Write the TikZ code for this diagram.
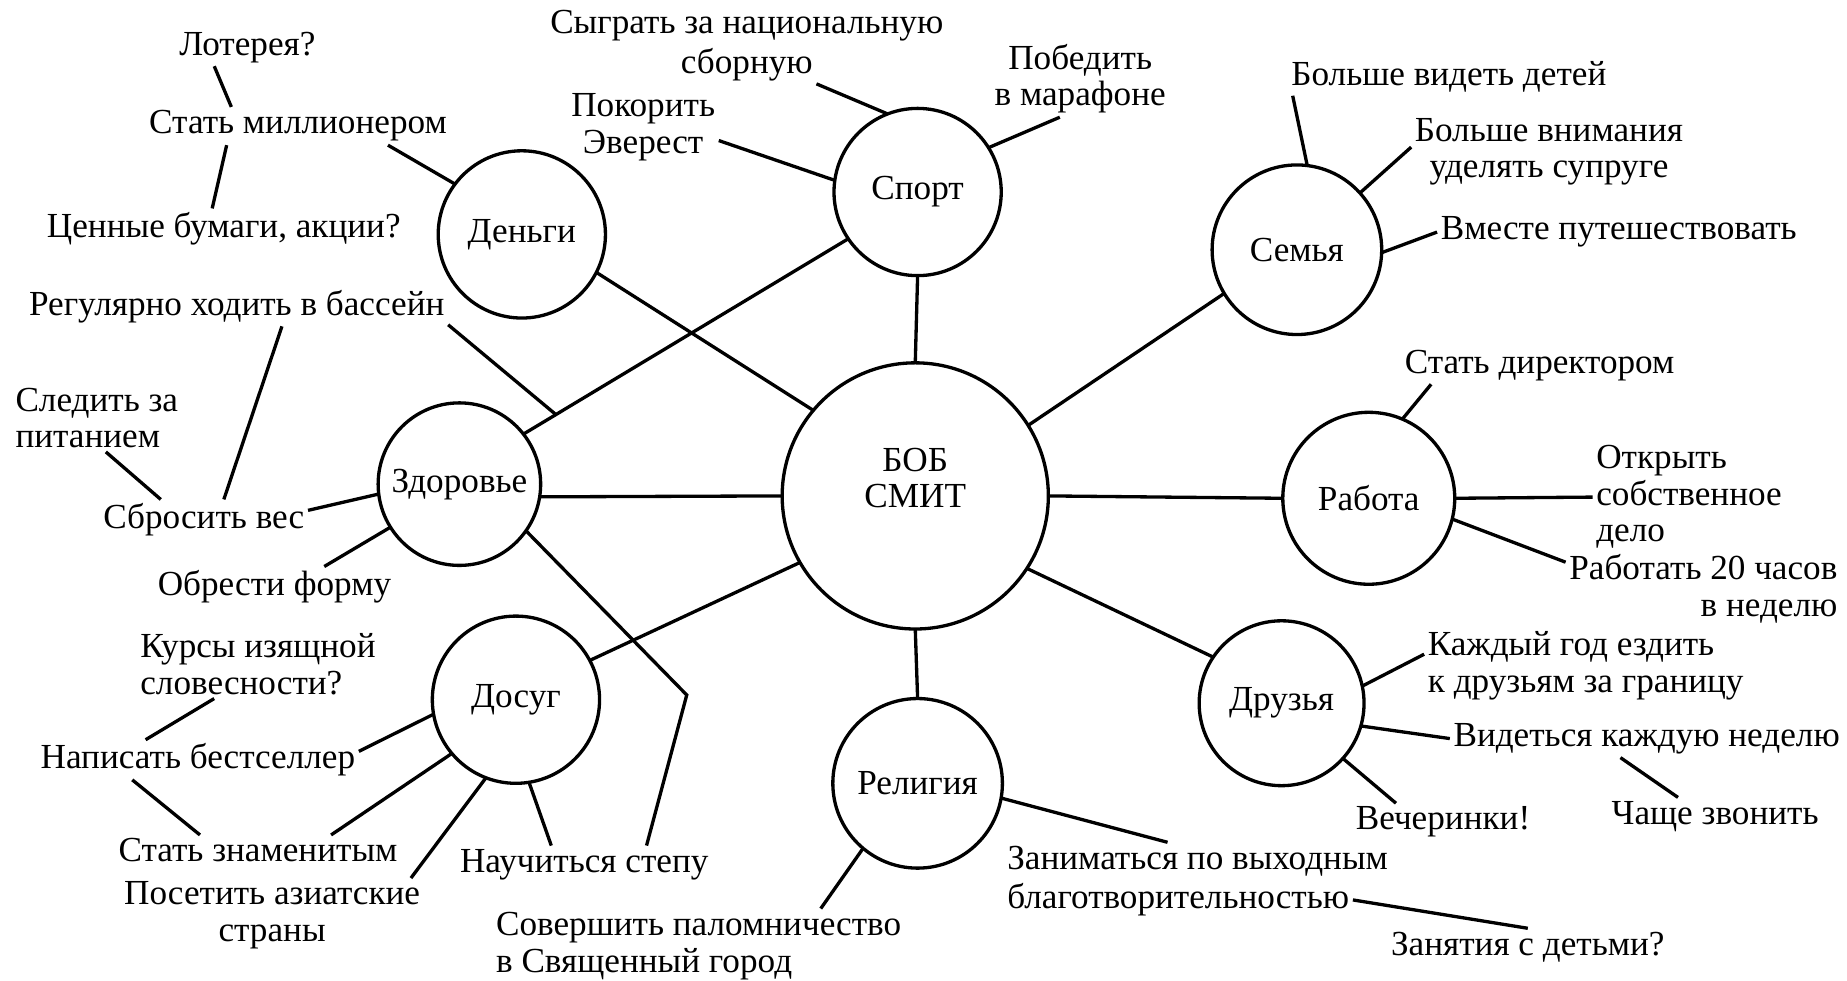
\documentclass[tikz,border=0pt]{standalone}
\usepackage{fontspec}
\setmainfont{Liberation Serif}
\usetikzlibrary{positioning}

\begin{document}
\begin{tikzpicture}[x=0.02cm, y=-0.02cm, node distance = 0pt,
    font=\fontsize{17}{17.6}\selectfont,
    line width=1.6pt,
    topic/.style = {circle, draw,
                    minimum size=#1,
                    inner sep=0pt, outer sep=0pt},
    idea/.style = {inner sep=1pt, align=center}
                            ]
    \useasboundingbox (0,0) rectangle (1568,832);

    % the man in the middle
    \node (bob) [topic=4.52cm, align=center] at (777,421) {БОБ\\СМИТ\\~};

    % topics
    \node (sport)    [topic=2.84cm] at (779,163) {Спорт};
    \node (money)    [topic=2.84cm] at (443,199) {Деньги};
    \node (family)   [topic=2.88cm] at (1101,212) {Семья};
    \node (work)     [topic=2.92cm] at (1162,423) {Работа};
    \node (friends)  [topic=2.80cm] at (1088,597) {Друзья};
    \node (religion) [topic=2.88cm] at (779,665) {Религия};
    \node (leisure)  [topic=2.84cm] at (438,594) {Досуг};
    \node (health)   [topic=2.76cm] at (390,411) {Здоровье};

    % money
    \node (lottery) [idea] at (210,40) {Лотерея?};
    \node (million) [idea] at (253,107) {Стать миллионером};
    \node (stocks)  [idea] at (190,194) {Ценные бумаги, акции?};

    % sport
    \node (national) [idea] at (634,22) {Сыграть за национальную};
    \node (squad)    [idea, below=of national] {сборную};
    \node (everest)  [idea] at (546,108) {Покорить\\Эверест};
    \node (marathon) [idea] at (917,67) {Победить\\в марафоне};

    % family
    \node (kids)   [idea] at (1230,65) {Больше видеть детей};
    \node (spouse) [idea] at (1315,129) {Больше внимания\\уделять супруге};
    \node (travel) [idea, anchor=west] at (1220,197) {Вместе путешествовать};

    % work
    \node (director) [idea] at (1307,310) {Стать директором};
    \node (ownbiz)   [idea, align=left, anchor=west] at (1352,422)
                     {Открыть\\собственное\\дело};
    \node (parttime) [idea, align=right, anchor=east] at (1563,500)
                     {Работать 20 часов\\в неделю};

    % friends
    \node (abroad) [idea, align=left, anchor=west] at (1209,565)
                   {Каждый год ездить\\к друзьям за границу};
    \node (weekly) [idea, anchor=east] at (1565,627) {Видеться каждую неделю};
    \node (phone)  [idea] at (1456,693) {Чаще звонить};
    \node (party)  [idea] at (1225,698) {Вечеринки!};

    % religion
    \node (charity)  [idea, anchor=west] at (852,731) {Заниматься по выходным};
    \node (charity2) [idea, below right=of charity.south west] {благотворительностью};
    \node (children) [idea] at (1297,804) {Занятия с детьми?};
    \node (pilgrim)  [idea, align=left, anchor=west] at (418,803)
                     {Совершить паломничество\\в Священный город};

    % leisure
    \node (courses)    [idea, align=left, anchor=west] at (116,564)
                       {Курсы изящной\\словесности?};
    \node (bestseller) [idea] at (168,645) {Написать бестселлер};
    \node (famous)     [idea] at (219,722) {Стать знаменитым};
    \node (asia)       [idea] at (231,777) {Посетить азиатские\\страны};
    \node (tap)        [idea] at (496,734) {Научиться степу};

    % health
    \node (pool)   [idea] at (201,260) {Регулярно ходить в бассейн};
    \node (diet)   [idea, align=left, anchor=west] at (10,355) {Следить за\\питанием};
    \node (weight) [idea] at (173,441) {Сбросить вес};
    \node (shape)  [idea] at (233,498) {Обрести форму};

    % spokes
    \draw (bob.north) -- (sport.south);
    \draw (bob.140)   -- (money.-27);
    \draw (bob.32)    -- (family.-149);
    \draw (bob.east)  -- (work.west);
    \draw (bob.-33)   -- (friends.146);
    \draw (bob.south) -- (religion.north);
    \draw (bob.-150)  -- (leisure.28);
    \draw (bob.west)  -- (health.-9);

    \draw (health.38) -- coordinate[pos=0.1] (poolend) (sport.-146);
    \coordinate (tapbend) at (583,590);
    \draw (health.-35) -- (tapbend) -- (tap.17);

    % money
    \draw (lottery.210) -- (million.164);
    \draw (million.195) -- (stocks.120);
    \draw (million.-12) -- (money.143);

    % sport
    \draw (squad.-15)    -- (sport.111);
    \draw (everest.-10)  -- (sport.172);
    \draw (marathon.242) -- (sport.32);

    % family
    \draw (kids.187)    -- (family.83);
    \draw (spouse.178)  -- (family.42);
    \draw (travel.west) -- (family.-2);

    % work
    \draw (director.190) -- (work.67);
    \draw (ownbiz.west)  -- (work.east);
    \draw (parttime.169) -- (work.-14);

    % friends
    \draw (abroad.176)  -- (friends.12);
    \draw (weekly.west) -- (friends.-16);
    \draw (weekly.216)  -- (phone.153);
    \draw (party.158)   -- (friends.-42);

    % religion
    \draw (charity.148)   -- (religion.-10);
    \draw (charity2.east) -- (children.north);
    \draw (pilgrim.17)    -- (religion.230);

    % leisure
    \draw (courses.218)    -- (bestseller.159);
    \draw (bestseller.3)   -- (leisure.190);
    \draw (bestseller.197) -- (famous.165);
    \draw (famous.12)      -- (leisure.220);
    \draw (asia.15)        -- (leisure.249);
    \draw (tap.150)        -- (leisure.-81);

    % health
    \draw (pool.-24)  -- (weight.45);
    \draw (pool.-5)   -- (poolend);
    \draw (diet.-75)  -- (weight.155);
    \draw (weight.5)  -- (health.187);
    \draw (shape.22)  -- (health.212);
\end{tikzpicture}
\end{document}
